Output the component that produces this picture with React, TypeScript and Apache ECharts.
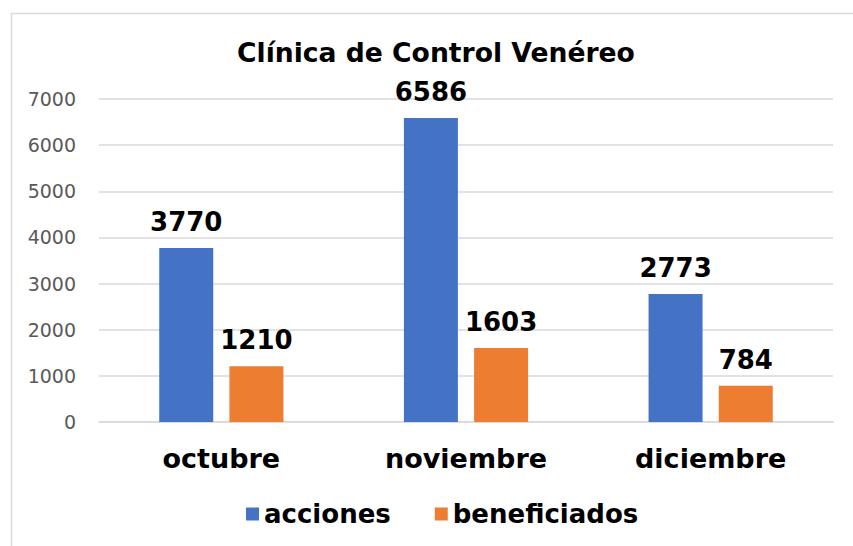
import React, { useEffect, useRef } from "react";
import * as echarts from "echarts";

const categories = ["octubre", "noviembre", "diciembre"];
const acciones = [3770, 6586, 2773];
const beneficiados = [1210, 1603, 784];
const seriesNames = ["acciones", "beneficiados"];
const titleText = "Clínica de Control Venéreo";

const FONT = "'DejaVu Sans', Verdana, sans-serif";

export default function App() {
  const ref = useRef<HTMLDivElement>(null);
  useEffect(() => {
    const chart = echarts.init(ref.current!, null, { renderer: "svg" });
    const labelStyle = {
      show: true,
      position: "top",
      distance: 13,
      fontFamily: FONT,
      fontWeight: "bold",
      fontSize: 26,
      color: "#000000",
    };
    chart.setOption({
      animation: false,
      backgroundColor: "#ffffff",
      graphic: [
        {
          type: "rect",
          shape: { x: 11.5, y: 13.5, width: 900, height: 600 },
          style: { fill: "none", stroke: "#d9d9d9", lineWidth: 1.5 },
          silent: true,
        },
      ],
      title: {
        text: titleText,
        left: 232,
        top: 34,
        textStyle: {
          fontFamily: FONT,
          fontWeight: "bold",
          fontSize: 26.6,
          color: "#000000",
        },
      },
      legend: {
        data: seriesNames,
        bottom: 14,
        left: 241,
        itemWidth: 13,
        itemHeight: 13,
        itemGap: 44,
        icon: "rect",
        textStyle: {
          fontFamily: FONT,
          fontWeight: "bold",
          fontSize: 26,
          color: "#000000",
        },
      },
      grid: { left: 99, right: 20, top: 99, bottom: 124, containLabel: false },
      xAxis: {
        type: "category",
        data: categories,
        axisLine: { lineStyle: { color: "#d9d9d9", width: 1.5 } },
        axisTick: { show: false },
        axisLabel: {
          margin: 23,
          fontFamily: FONT,
          fontWeight: "bold",
          fontSize: 27,
          color: "#000000",
        },
      },
      yAxis: {
        type: "value",
        min: 0,
        max: 7000,
        interval: 1000,
        axisLine: { show: false },
        axisTick: { show: false },
        splitLine: { lineStyle: { color: "#d9d9d9", width: 1.5 } },
        axisLabel: {
          margin: 23,
          fontFamily: FONT,
          fontSize: 19,
          color: "#595959",
          formatter: (v: number) => String(v),
        },
      },
      series: [
        {
          name: seriesNames[0],
          type: "bar",
          data: acciones,
          barWidth: 54,
          barGap: "30%",
          itemStyle: { color: "#4472c4" },
          label: labelStyle,
        },
        {
          name: seriesNames[1],
          type: "bar",
          data: beneficiados,
          barWidth: 54,
          barGap: "30%",
          itemStyle: { color: "#ed7d31" },
          label: labelStyle,
        },
      ],
    });
    return () => chart.dispose();
  }, []);
  return (
    <div
      ref={ref}
      style={{ position: "fixed", left: 0, top: 0, width: 853, height: 546 }}
    />
  );
}
